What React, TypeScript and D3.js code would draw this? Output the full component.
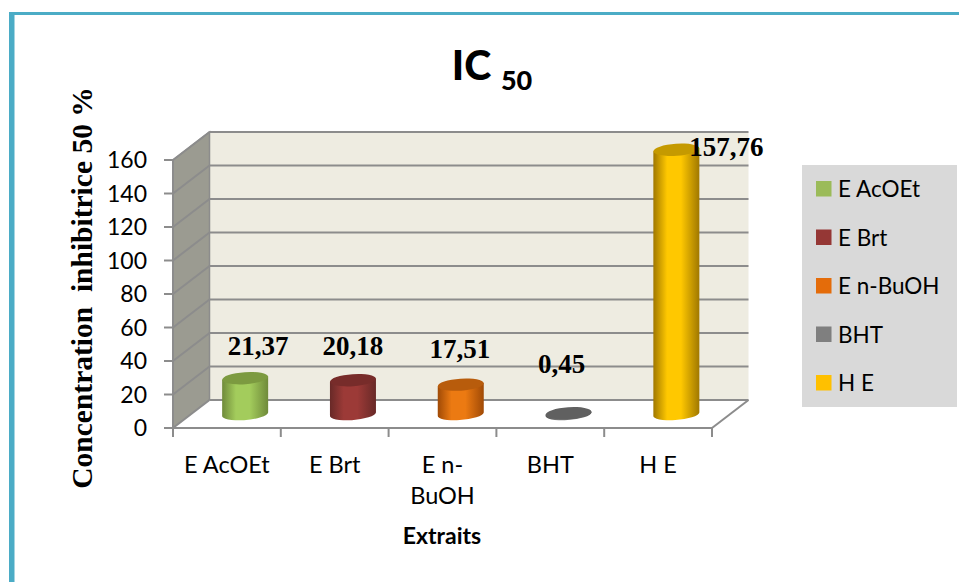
import React from "react";
import * as d3 from "d3";

// Extract names and IC50 values
const categories = ["E AcOEt", "E Brt", "E n-BuOH", "BHT", "H E"];
const axisLabelLines = [["E AcOEt"], ["E Brt"], ["E n-", "BuOH"], ["BHT"], ["H E"]];
const ic50Values = [21.37, 20.18, 17.51, 0.45, 157.76];
const yTicks = [0, 20, 40, 60, 80, 100, 120, 140, 160];

// Per-series cylinder shades: edge, middle, cap
const sideEdge = ["#6f8a3a", "#682927", "#a04a06", "#555555", "#a07800"];
const sideMid = ["#a3cc5c", "#9c3a37", "#ec7a12", "#7a7a7a", "#ffc800"];
const capFill = ["#7c9a40", "#772c2a", "#b85c0c", "#606060", "#c59a00"];
const swatchFill = ["#9bbb59", "#953735", "#e46c0a", "#7f7f7f", "#ffc000"];

// Value-label nudges relative to the top of each bar
const labelDx = [13, 0, -1, -7, 50];
const labelDy = [-23, -25, -27, -40, 6];

const WIDTH = 959;
const HEIGHT = 582;
const SANS = "Lato, 'Open Sans', sans-serif";
const SERIF = "'Liberation Serif', serif";
const GRID = "#8c8c8c";

// Oblique projection of the 3D box: full depth of the back wall
const DEPTH_X = 36.5;
const DEPTH_Y = -28;
const RX = 23;
const RY = 6;

const x = d3.scaleBand<string>().domain(categories).range([173, 712]);
const y = d3.scaleLinear().domain([0, 160]).range([428, 160]);

const fmt = (v: number) => v.toFixed(2).replace(".", ",");

export default function App() {
  const xLeft = x.range()[0];
  const xRight = x.range()[1];
  const y0 = y(0);
  const yTop = y(160);
  const step = x.bandwidth();

  const wall = d3.line()([
    [xLeft, yTop],
    [xLeft + DEPTH_X, yTop + DEPTH_Y],
    [xLeft + DEPTH_X, y0 + DEPTH_Y],
    [xLeft, y0],
  ]) + "Z";
  const floor = d3.line()([
    [xLeft, y0],
    [xLeft + DEPTH_X, y0 + DEPTH_Y],
    [xRight + DEPTH_X, y0 + DEPTH_Y],
    [xRight, y0],
  ]) + "Z";

  return (
    <svg
      width={WIDTH}
      height={HEIGHT}
      style={{ position: "absolute", left: 0, top: 0, background: "#fff" }}
    >
      <defs>
        {categories.map((c, i) => (
          <linearGradient key={c} id={`cyl${i}`} x1="0" x2="1" y1="0" y2="0">
            <stop offset="0" stopColor={sideEdge[i]} />
            <stop offset="0.3" stopColor={sideMid[i]} />
            <stop offset="0.6" stopColor={sideMid[i]} />
            <stop offset="1" stopColor={sideEdge[i]} />
          </linearGradient>
        ))}
      </defs>

      {/* Frame accent on the top and left */}
      <rect x={9} y={12} width={950} height={3} fill="#4bacc6" />
      <rect x={9} y={12} width={5} height={570} fill="#4bacc6" />
      <rect x={14} y={15} width={1} height={567} fill="#a5d5e2" />

      {/* Title with subscript */}
      <text x={492} y={80} textAnchor="middle" fontFamily={SANS} fontWeight={900} fontSize={41} fill="#000">
        IC <tspan fontSize={27} dy={10}>50</tspan>
      </text>

      {/* Box walls */}
      <rect
        x={xLeft + DEPTH_X}
        y={yTop + DEPTH_Y}
        width={xRight - xLeft}
        height={y0 - yTop}
        fill="#eeece1"
      />
      <path d={wall} fill="#9b9b91" stroke={GRID} strokeWidth={1.5} />
      <path d={floor} fill="#ffffff" />

      {/* Gridlines run along the side wall then across the back wall */}
      {yTicks.map((t) => (
        <g key={t} fill="none" stroke={GRID} strokeWidth={2}>
          <line x1={xLeft + DEPTH_X} x2={xRight + DEPTH_X} y1={y(t) + DEPTH_Y} y2={y(t) + DEPTH_Y} />
          <line x1={xLeft} x2={xLeft + DEPTH_X} y1={y(t)} y2={y(t) + DEPTH_Y} />
          <line x1={xLeft - 9} x2={xLeft} y1={y(t)} y2={y(t)} />
          <text
            x={xLeft - 26}
            y={y(t) + 8}
            textAnchor="end"
            fontFamily={SANS}
            fontSize={23}
            fill="#000"
            stroke="none"
          >
            {t}
          </text>
        </g>
      ))}

      {/* Front floor edge and category ticks */}
      <line x1={xLeft} x2={xLeft} y1={yTop} y2={y0} stroke={GRID} strokeWidth={2} />
      <line x1={xLeft} x2={xRight} y1={y0} y2={y0} stroke={GRID} strokeWidth={2} />
      <line x1={xRight} x2={xRight + DEPTH_X} y1={y0} y2={y0 + DEPTH_Y} stroke={GRID} strokeWidth={2} />
      {d3.range(categories.length + 1).map((i) => (
        <line
          key={i}
          x1={xLeft + i * step}
          x2={xLeft + i * step}
          y1={y0}
          y2={y0 + 9}
          stroke={GRID}
          strokeWidth={2}
        />
      ))}

      {/* Cylinders, standing halfway into the depth of the box */}
      {categories.map((c, i) => {
        const cx = (x(c) as number) + step / 2 + DEPTH_X / 2;
        const base = y0 + DEPTH_Y / 2;
        const top = y(ic50Values[i]) + DEPTH_Y / 2;
        const body = `M${cx - RX},${top + 1.6} L${cx - RX},${base + 1.6} A${RX},${RY} -5 0 0 ${cx + RX},${base - 1.6} L${cx + RX},${top - 1.6} Z`;
        return (
          <g key={c}>
            <path d={body} fill={`url(#cyl${i})`} />
            <ellipse
              cx={cx}
              cy={top}
              rx={RX}
              ry={RY}
              fill={capFill[i]}
              transform={`rotate(-4 ${cx} ${top})`}
            />
          </g>
        );
      })}

      {/* Value labels */}
      {categories.map((c, i) => {
        const cx = (x(c) as number) + step / 2 + DEPTH_X / 2;
        const top = y(ic50Values[i]) + DEPTH_Y / 2;
        return (
          <text
            key={c}
            x={cx + labelDx[i]}
            y={top + labelDy[i]}
            textAnchor="middle"
            fontFamily={SERIF}
            fontWeight={700}
            fontSize={27}
            fill="#000"
          >
            {fmt(ic50Values[i])}
          </text>
        );
      })}

      {/* Category labels */}
      {categories.map((c, i) =>
        axisLabelLines[i].map((line, j) => (
          <text
            key={line}
            x={(x(c) as number) + step / 2}
            y={473 + j * 31}
            textAnchor="middle"
            fontFamily={SANS}
            fontSize={23.5}
            fill="#000"
          >
            {line}
          </text>
        ))
      )}

      {/* Axis titles */}
      <text x={442} y={544} textAnchor="middle" fontFamily={SANS} fontWeight={700} fontSize={23} fill="#000">
        Extraits
      </text>
      <text
        transform="translate(92 288) rotate(-90)"
        textAnchor="middle"
        fontFamily={SERIF}
        fontWeight={700}
        fontSize={29.5}
        fill="#000"
        xmlSpace="preserve"
        style={{ whiteSpace: "pre" }}
      >
        {"Concentration  inhibitrice 50 %"}
      </text>

      {/* Legend */}
      <rect x={802} y={165} width={155} height={242} fill="#d9d9d9" />
      {categories.map((c, i) => {
        const rowY = 189 + i * 48.5;
        return (
          <g key={c}>
            <rect x={816} y={rowY - 8} width={15.5} height={15.5} fill={swatchFill[i]} />
            <text x={838} y={rowY + 8} fontFamily={SANS} fontSize={22.5} fill="#000">
              {c}
            </text>
          </g>
        );
      })}
    </svg>
  );
}
